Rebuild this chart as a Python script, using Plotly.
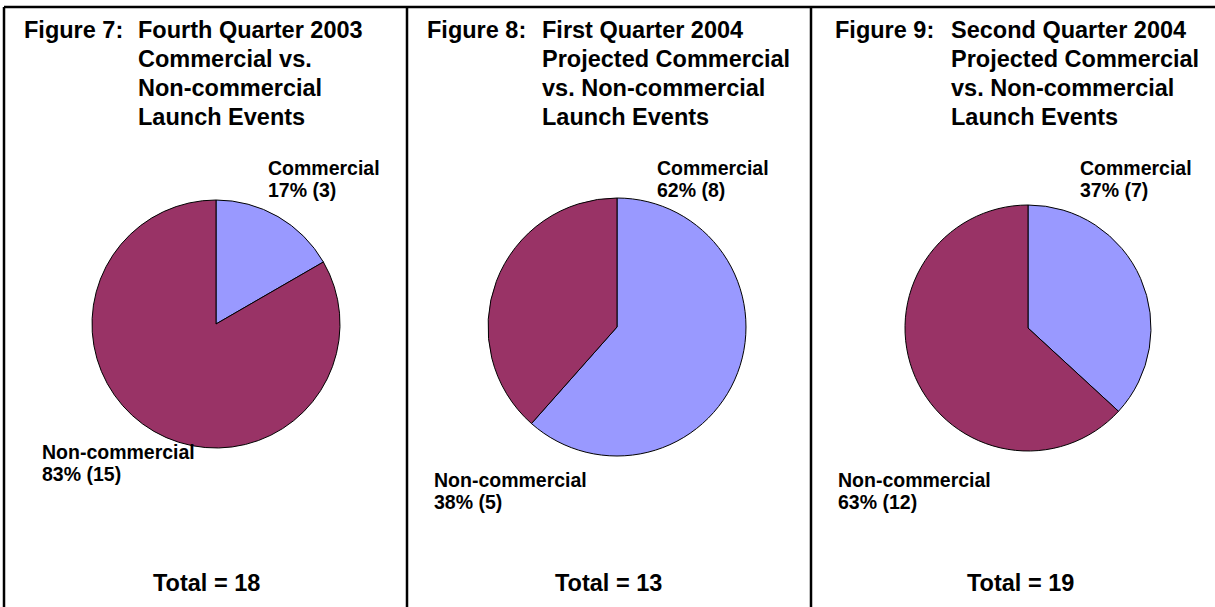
import plotly.graph_objects as go

# Launch event counts per quarter
figure_numbers = ["Figure 7:", "Figure 8:", "Figure 9:"]
titles = [
    ["Fourth Quarter 2003", "Commercial vs.", "Non-commercial", "Launch Events"],
    ["First Quarter 2004", "Projected Commercial", "vs. Non-commercial", "Launch Events"],
    ["Second Quarter 2004", "Projected Commercial", "vs. Non-commercial", "Launch Events"],
]
categories = ["Commercial", "Non-commercial"]
commercial = [3, 8, 7]
non_commercial = [15, 5, 12]
colors = ["#9999FF", "#993366"]

W, H = 1215, 607
FONT = "Liberation Sans, Arial, sans-serif"

# Panel layout in pixels (left edge, pie centre, pie radius, label anchors)
panel_left = [4, 407, 811]
pie_cx = [216, 617, 1028]
pie_cy = [324, 327, 328]
pie_r = [124, 129, 123]
fig_x = [22, 425, 833]
title_x = [136, 540, 949]
title_y = [30, 59, 88, 117]
comm_x = [266, 655, 1078]
comm_y = [168, 168, 168]
non_x = [40, 432, 836]
non_y = [452, 480, 480]
total_cx = [206, 608, 1020]
total_y = 583
line_gap = 22

TITLE_SIZE = 23.5
LABEL_SIZE = 19.5
TOTAL_SIZE = 23.5


def px(x):
    return x / W


def py(y):
    return 1 - y / H


fig = go.Figure()
annotations = []
shapes = []


def ann(text, x, y, size, xanchor="left"):
    annotations.append(dict(
        text=f"<b>{text}</b>", x=px(x), y=py(y), xref="paper", yref="paper",
        xanchor=xanchor, yanchor="middle", showarrow=False,
        font=dict(family=FONT, size=size, color="black"),
    ))


for i in range(3):
    vals = [commercial[i], non_commercial[i]]
    total = sum(vals)
    fig.add_trace(go.Pie(
        labels=categories,
        values=vals,
        sort=False,
        direction="clockwise",
        rotation=0,
        marker=dict(colors=colors, line=dict(color="black", width=1)),
        textinfo="none",
        hoverinfo="label+value+percent",
        showlegend=False,
        domain=dict(
            x=[px(pie_cx[i] - pie_r[i]), px(pie_cx[i] + pie_r[i])],
            y=[py(pie_cy[i] + pie_r[i]), py(pie_cy[i] - pie_r[i])],
        ),
    ))

    ann(figure_numbers[i], fig_x[i], title_y[0], TITLE_SIZE)
    for line, y in zip(titles[i], title_y):
        ann(line, title_x[i], y, TITLE_SIZE)

    pct_c = round(100 * commercial[i] / total)
    pct_n = round(100 * non_commercial[i] / total)
    ann(categories[0], comm_x[i], comm_y[i], LABEL_SIZE)
    ann(f"{pct_c}% ({commercial[i]})", comm_x[i], comm_y[i] + line_gap, LABEL_SIZE)
    ann(categories[1], non_x[i], non_y[i], LABEL_SIZE)
    ann(f"{pct_n}% ({non_commercial[i]})", non_x[i], non_y[i] + line_gap, LABEL_SIZE)
    ann(f"Total = {total}", total_cx[i], total_y, TOTAL_SIZE, xanchor="center")

    shapes.append(dict(type="line", xref="paper", yref="paper",
                       x0=px(panel_left[i]), x1=px(panel_left[i]),
                       y0=py(7), y1=0, line=dict(color="black", width=2.5)))

shapes.append(dict(type="line", xref="paper", yref="paper",
                   x0=px(4), x1=1, y0=py(7), y1=py(7),
                   line=dict(color="black", width=2.5)))

fig.update_layout(
    width=W, height=H,
    margin=dict(l=0, r=0, t=0, b=0),
    paper_bgcolor="white", plot_bgcolor="white",
    annotations=annotations, shapes=shapes,
)

fig.write_html("out.html")
